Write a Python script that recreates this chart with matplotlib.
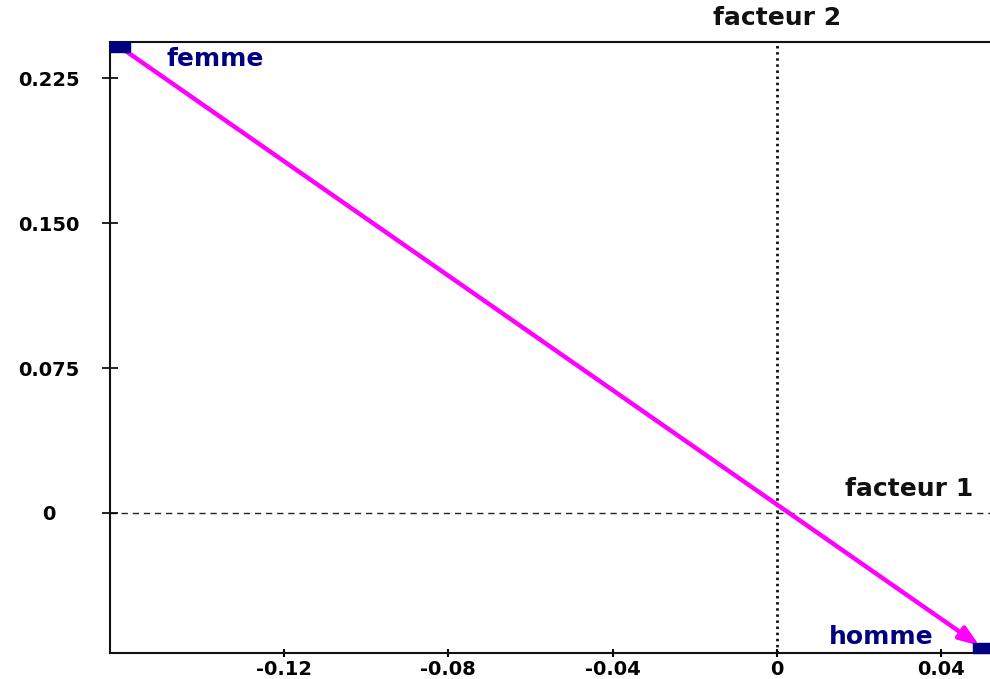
import matplotlib
matplotlib.use("Agg")
import matplotlib.pyplot as plt
from matplotlib.path import Path

# --- data ---
point_labels = ["femme", "homme"]
point_x = [-0.1598, 0.0501]
point_y = [0.2412, -0.0699]
x_ticks = [-0.12, -0.08, -0.04, 0, 0.04]
x_tick_labels = ["-0.12", "-0.08", "-0.04", "0", "0.04"]
y_ticks = [0, 0.075, 0.150, 0.225]
y_tick_labels = ["0", "0.075", "0.150", "0.225"]
x_axis_title = "facteur 1"
y_axis_title = "facteur 2"

W, H = 990, 679
fig = plt.figure(figsize=(W / 100, H / 100), dpi=100)
fig.patch.set_facecolor("white")
left, right, top, bottom = 110, 990, 42.3, 652.7
ax = fig.add_axes([left / W, 1 - bottom / H, (right - left) / W, (bottom - top) / H])
ax.set_xlim(-0.1622, 0.0518)
ax.set_ylim(-0.0723, 0.2436)
ax.set_facecolor("white")

for s in ["left", "bottom", "top"]:
    ax.spines[s].set_linewidth(1.5)
    ax.spines[s].set_color("#111111")
ax.spines["right"].set_visible(False)

# reference lines
ax.axhline(0, color="#222222", lw=1.0, ls=(0, (4.5, 3.5)), zorder=1)
ax.axvline(0, color="#111111", lw=2.0, ls=(0, (0.9, 1.3)), zorder=1)

# ticks
ax.set_xticks(x_ticks)
ax.set_xticklabels(x_tick_labels, fontsize=14, fontweight="bold")
ax.set_yticks(y_ticks)
ax.set_yticklabels(y_tick_labels, fontsize=14, fontweight="bold")
ax.tick_params(axis="x", direction="inout", length=6, width=1.5, pad=2)
ax.tick_params(axis="y", direction="inout", length=11.5, width=1.2, pad=38)
for lab in ax.get_yticklabels():
    lab.set_horizontalalignment("center")

# arrow
ax.annotate("", xy=(point_x[1], point_y[1]), xytext=(point_x[0], point_y[0]),
            arrowprops=dict(arrowstyle="-|>,head_length=0.6,head_width=0.22",
                            color="#FF00FF", lw=3.2,
                            mutation_scale=20, shrinkA=4, shrinkB=3),
            zorder=3)

# rectangular markers
rect = Path([(-1, -0.5), (1, -0.5), (1, 0.5), (-1, 0.5), (-1, -0.5)],
            [Path.MOVETO, Path.LINETO, Path.LINETO, Path.LINETO, Path.CLOSEPOLY])
ax.plot(point_x, point_y, ls="none", marker=rect, markersize=14.4,
        color="#000080", clip_on=False, zorder=4)

# point labels
offsets = [(47, -12, "left"), (-50, 11, "right")]
for lbl, px, py, (dx, dy, ha) in zip(point_labels, point_x, point_y, offsets):
    ax.annotate(lbl, xy=(px, py), xytext=(dx, dy), textcoords="offset pixels",
                ha=ha, va="center", fontsize=18, fontweight="bold",
                color="#000080", zorder=5)

# axis titles
ax.text(0, 1.04, y_axis_title, transform=ax.get_xaxis_transform(),
        ha="center", va="center", fontsize=18, fontweight="bold", color="#111111")
ax.annotate(x_axis_title, xy=(1, 0), xycoords=ax.get_yaxis_transform(),
            xytext=(-17, 24), textcoords="offset pixels",
            ha="right", va="center", fontsize=18, fontweight="bold", color="#111111")

fig.savefig("out.png", dpi=100, facecolor=fig.get_facecolor())
